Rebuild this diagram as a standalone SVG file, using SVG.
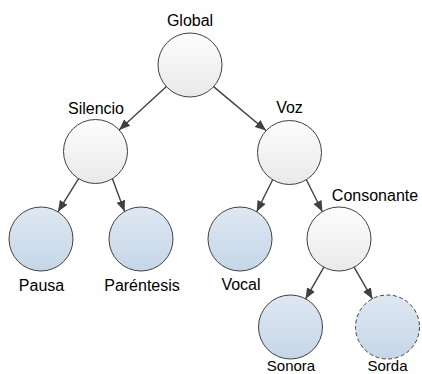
<svg xmlns="http://www.w3.org/2000/svg" width="422" height="374" viewBox="0 0 422 374">
<defs>
<linearGradient id="gw" x1="0" y1="0" x2="0" y2="1"><stop offset="0" stop-color="#fdfdfd"/><stop offset="1" stop-color="#e9e9e9"/></linearGradient>
<linearGradient id="gb" x1="0" y1="0" x2="0" y2="1"><stop offset="0" stop-color="#dfe8f2"/><stop offset="1" stop-color="#c5d6e8"/></linearGradient>
<marker id="ah" markerUnits="userSpaceOnUse" markerWidth="12" markerHeight="12" viewBox="0 0 12 12" refX="11" refY="6" orient="auto"><path d="M0,1.5 L11,6 L0,10.5 Z" fill="#404040"/></marker>
</defs>
<style>
.n{stroke:#404040;stroke-width:1}
.w{fill:url(#gw)}
.b{fill:url(#gb)}
.d{stroke-dasharray:4 2.5}
.e{stroke:#404040;stroke-width:1.4;fill:none;marker-end:url(#ah)}
text{font-family:"Liberation Sans",Arial,sans-serif;font-size:16px;fill:#000;text-anchor:middle}
.s{font-size:15px}
</style>
<g id="connectors">
<line class="e" x1="166.4" y1="86.6" x2="119.1" y2="129.9"/>
<line class="e" x1="213.6" y1="86.6" x2="266" y2="130.5"/>
<line class="e" x1="78.6" y1="178.7" x2="57.9" y2="211.8"/>
<line class="e" x1="112.4" y1="178.7" x2="124.6" y2="211.6"/>
<line class="e" x1="272.6" y1="179.7" x2="256.7" y2="211.8"/>
<line class="e" x1="306.4" y1="179.7" x2="322.4" y2="211.8"/>
<line class="e" x1="323.9" y1="267.2" x2="305.5" y2="299.1"/>
<line class="e" x1="354.1" y1="267.2" x2="372.5" y2="299.1"/>
</g>
<g id="global"><circle class="n w" cx="190" cy="65" r="32"/><text x="190" y="26">Global</text></g>
<g id="silencio"><circle class="n w" cx="95.5" cy="151.5" r="32"/><text x="96" y="114">Silencio</text></g>
<g id="voz"><circle class="n w" cx="289.5" cy="152.5" r="32"/><text x="289.5" y="113">Voz</text></g>
<g id="pausa"><circle class="n b" cx="41" cy="239" r="32"/><text x="41.5" y="291">Pausa</text></g>
<g id="parentesis"><circle class="n b" cx="141" cy="239" r="32"/><text x="142" y="291">Paréntesis</text></g>
<g id="vocal"><circle class="n b" cx="240" cy="239" r="32"/><text x="241" y="290">Vocal</text></g>
<g id="consonante"><circle class="n w" cx="339" cy="239" r="32"/><text x="375" y="201">Consonante</text></g>
<g id="sonora"><circle class="n b" cx="290.5" cy="327" r="32"/><text class="s" x="291" y="371">Sonora</text></g>
<g id="sorda"><circle class="n b d" cx="387.5" cy="327" r="32"/><text class="s" x="387.5" y="371">Sorda</text></g>
</svg>
